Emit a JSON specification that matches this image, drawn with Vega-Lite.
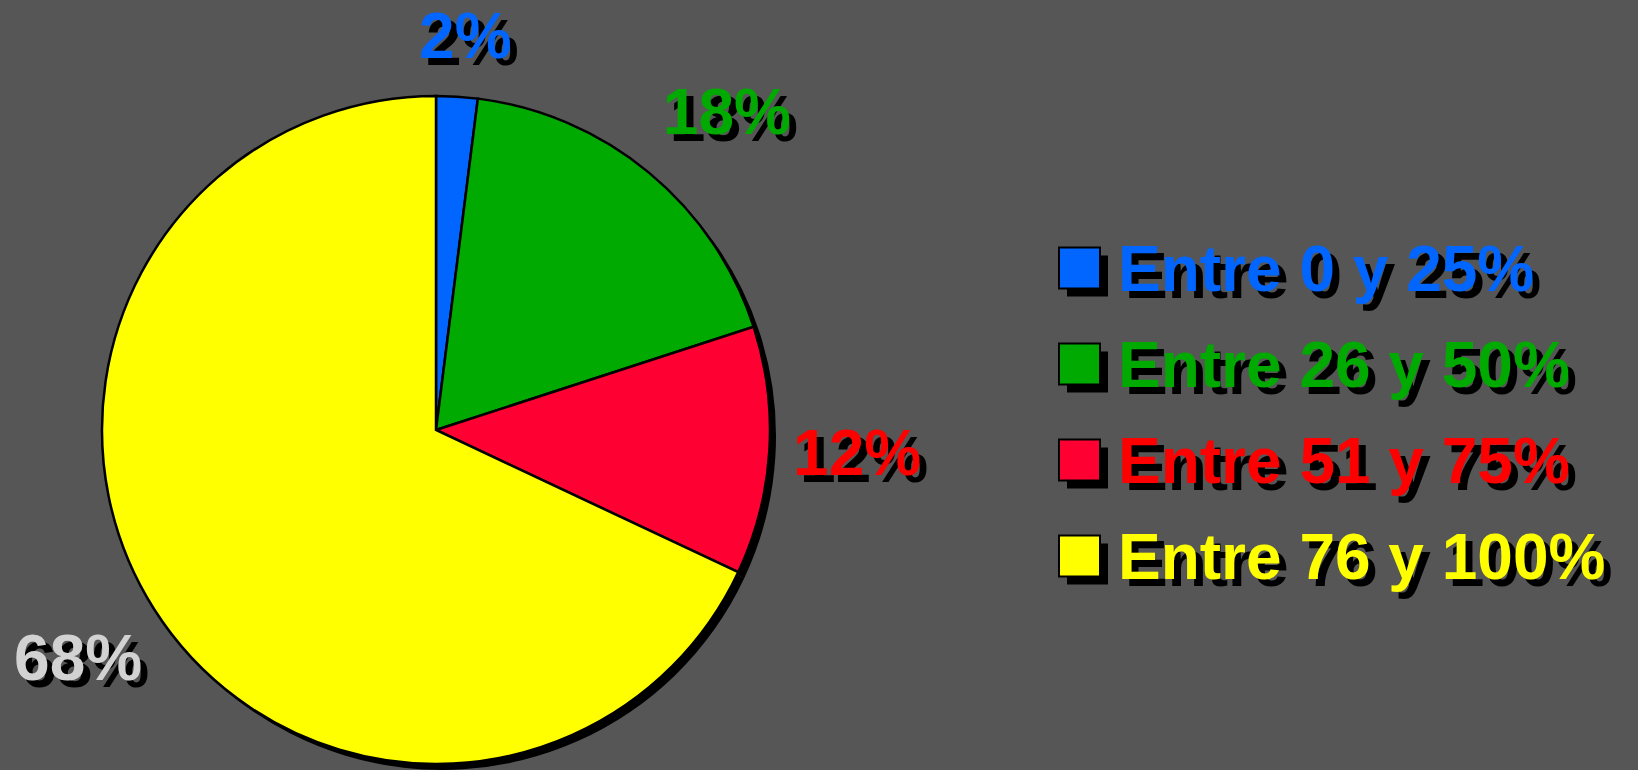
{
  "$schema": "https://vega.github.io/schema/vega-lite/v6.json",
  "background": "#565656",
  "padding": {"left": 14, "top": 7, "right": 0, "bottom": 0},
  "config": {"view": {"stroke": null}, "font": "Liberation Sans"},
  "datasets": {
    "slices": [
      {"cat": "Entre 0 y 25%", "value": 2, "label": "2%"},
      {"cat": "Entre 26 y 50%", "value": 18, "label": "18%"},
      {"cat": "Entre 51 y 75%", "value": 12, "label": "12%"},
      {"cat": "Entre 76 y 100%", "value": 68, "label": "68%"}
    ]
  },
  "spacing": 126,
  "hconcat": [
    {
      "width": 668,
      "height": 668,
      "data": {"name": "slices"},
      "encoding": {
        "theta": {"field": "value", "type": "quantitative", "stack": true},
        "order": {"field": "cat", "type": "nominal", "sort": "ascending"}
      },
      "layer": [
        {
          "mark": {"type": "arc", "radius": 334, "fill": "black", "xOffset": 6, "yOffset": 6},
          "encoding": {"detail": {"field": "cat", "type": "nominal"}}
        },
        {
          "mark": {"type": "arc", "radius": 334, "stroke": "black", "strokeWidth": 2.5},
          "encoding": {
            "color": {
              "field": "cat", "type": "nominal", "legend": null,
              "scale": {"domain": ["Entre 0 y 25%", "Entre 26 y 50%", "Entre 51 y 75%", "Entre 76 y 100%"],
                        "range": ["#0066FF", "#00AA00", "#FF0033", "#FFFF00"]}
            }
          }
        },
        {
          "mark": {"type": "text", "fontSize": 64, "fontWeight": "bold", "fill": "black", "dx": 7, "dy": 7,
                   "align": "center", "baseline": "middle",
                   "radius": {"expr": "datum.label == '2%' ? 392 : datum.label == '18%' ? 429 : datum.label == '68%' ? 426 : 422"},
                   "thetaOffset": {"expr": "datum.label == '18%' ? 0.054 : datum.label == '2%' ? 0.012 : datum.label == '68%' ? -0.008 : 0"}},
          "encoding": {"text": {"field": "label"}, "detail": {"field": "cat", "type": "nominal"}}
        },
        {
          "mark": {"type": "text", "fontSize": 64, "fontWeight": "bold",
                   "align": "center", "baseline": "middle",
                   "radius": {"expr": "datum.label == '2%' ? 392 : datum.label == '18%' ? 429 : datum.label == '68%' ? 426 : 422"},
                   "thetaOffset": {"expr": "datum.label == '18%' ? 0.054 : datum.label == '2%' ? 0.012 : datum.label == '68%' ? -0.008 : 0"}},
          "encoding": {
            "text": {"field": "label"},
            "color": {
              "field": "cat", "type": "nominal", "legend": null,
              "scale": {"domain": ["Entre 0 y 25%", "Entre 26 y 50%", "Entre 51 y 75%", "Entre 76 y 100%"],
                        "range": ["#0066FF", "#00AA00", "#FF0000", "#D2D2D2"]}
            }
          }
        }
      ],
      "resolve": {"scale": {"color": "independent"}}
    },
    {
      "spacing": 10,
      "hconcat": [
        {
          "width": 43,
          "height": 668,
          "data": {"name": "slices"},
          "encoding": {
            "y": {"field": "cat", "type": "ordinal", "axis": null,
                  "scale": {"type": "point", "padding": 0, "range": [172, 460]}}
          },
          "layer": [
            {
              "mark": {"type": "point", "shape": "square", "filled": true, "size": 1681, "fill": "black",
                       "opacity": 1, "xOffset": 8, "yOffset": 8}
            },
            {
              "mark": {"type": "point", "shape": "square", "filled": true, "size": 1681, "opacity": 1,
                       "stroke": "black", "strokeWidth": 2},
              "encoding": {
                "fill": {
                  "field": "cat", "type": "nominal", "legend": null,
                  "scale": {"domain": ["Entre 0 y 25%", "Entre 26 y 50%", "Entre 51 y 75%", "Entre 76 y 100%"],
                            "range": ["#0066FF", "#00AA00", "#FF0033", "#FFFF00"]}
                }
              }
            }
          ]
        },
        {
          "width": 520,
          "height": 668,
          "data": {"name": "slices"},
          "encoding": {
            "y": {"field": "cat", "type": "ordinal", "axis": null,
                  "scale": {"type": "point", "padding": 0, "range": [172, 460]}},
            "x": {"value": 0},
            "text": {"field": "cat"}
          },
          "layer": [
            {
              "mark": {"type": "text", "fontSize": 64, "fontWeight": "bold", "fill": "black",
                       "align": "left", "baseline": "middle", "dx": 7, "dy": 11}
            },
            {
              "mark": {"type": "text", "fontSize": 64, "fontWeight": "bold",
                       "align": "left", "baseline": "middle", "dy": 4},
              "encoding": {
                "color": {
                  "field": "cat", "type": "nominal", "legend": null,
                  "scale": {"domain": ["Entre 0 y 25%", "Entre 26 y 50%", "Entre 51 y 75%", "Entre 76 y 100%"],
                            "range": ["#0066FF", "#00AA00", "#FF0000", "#FFFF00"]}
                }
              }
            }
          ]
        }
      ]
    }
  ]
}
